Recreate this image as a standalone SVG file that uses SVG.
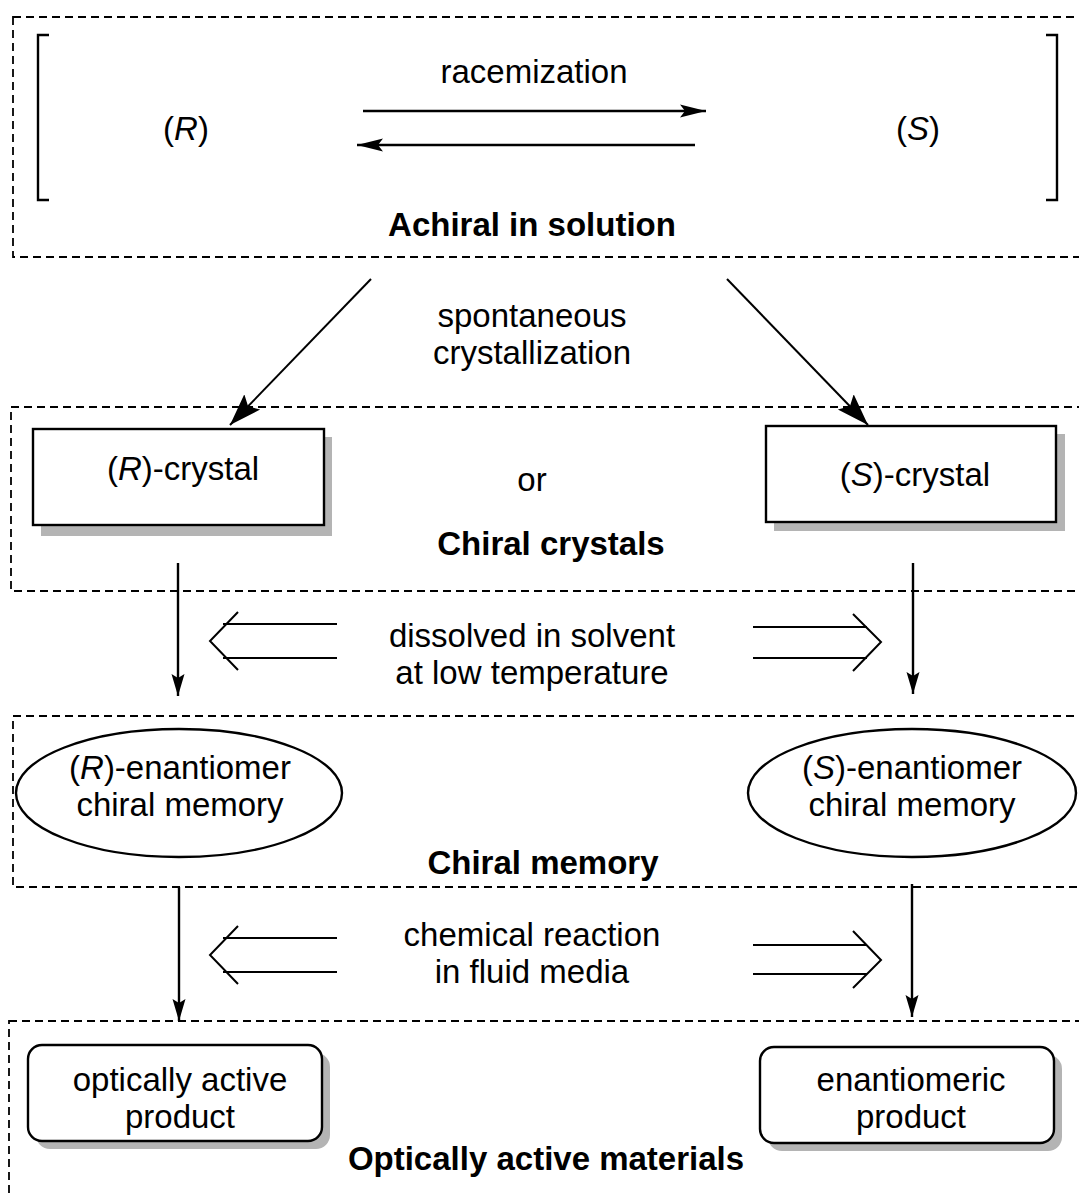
<svg xmlns="http://www.w3.org/2000/svg" width="1079" height="1196" viewBox="0 0 1079 1196">
<style>
text{font-family:"Liberation Sans",Arial,sans-serif;font-size:33px;fill:#000;text-anchor:middle}
.b{font-weight:bold}
.dash{fill:none;stroke:#000;stroke-width:1.8;stroke-dasharray:8 5}
.box{fill:#fff;stroke:#000;stroke-width:2.4}
.sh{fill:#b4b4b4}
.ln{fill:none;stroke:#000;stroke-width:2.4}
.thin{fill:none;stroke:#000;stroke-width:2}
</style>
<defs>
<marker id="ah" markerUnits="userSpaceOnUse" markerWidth="28" markerHeight="16" refX="26" refY="8" orient="auto">
<path d="M0,1.5 L26,8 L0,14.5 L5,8 z" fill="#000"/>
</marker>
<marker id="av" markerUnits="userSpaceOnUse" markerWidth="24" markerHeight="16" refX="22" refY="8" orient="auto">
<path d="M0,1.5 L22,8 L0,14.5 L4,8 z" fill="#000"/>
</marker>
<marker id="ad" markerUnits="userSpaceOnUse" markerWidth="34" markerHeight="24" refX="32" refY="12" orient="auto">
<path d="M0,1 L32,12 L0,23 L6,12 z" fill="#000"/>
</marker>
</defs>
<rect width="1079" height="1196" fill="#fff"/>

<g id="group-achiral">
<rect class="dash" x="13" y="17" width="1090" height="240"/>
<path class="ln" d="M49,35 H38 V200 H49"/>
<path class="ln" d="M1046,35 H1057 V200 H1046"/>
<text class="b" x="532" y="236">Achiral in solution</text>
</g>
<g id="node-R"><text x="186" y="140">(<tspan font-style="italic">R</tspan>)</text></g>
<g id="node-S"><text x="918" y="140">(<tspan font-style="italic">S</tspan>)</text></g>
<text x="534" y="83">racemization</text>

<g id="group-crystals">
<rect class="dash" x="11" y="407" width="1090" height="184"/>
<text x="532" y="491">or</text>
<text class="b" x="551" y="555">Chiral crystals</text>
</g>
<g id="node-R-crystal">
<rect class="sh" x="41" y="437" width="291" height="99"/>
<rect class="box" x="33" y="429" width="291" height="96"/>
<text x="183" y="480">(<tspan font-style="italic">R</tspan>)-crystal</text>
</g>
<g id="node-S-crystal">
<rect class="sh" x="774" y="434" width="291" height="97"/>
<rect class="box" x="766" y="426" width="290" height="96"/>
<text x="915" y="486">(<tspan font-style="italic">S</tspan>)-crystal</text>
</g>

<g id="group-memory">
<rect class="dash" x="13" y="716" width="1090" height="171"/>
<text class="b" x="543" y="874">Chiral memory</text>
</g>
<g id="node-R-memory">
<ellipse class="box" cx="179" cy="793" rx="163" ry="64"/>
<text x="180" y="779">(<tspan font-style="italic">R</tspan>)-enantiomer</text>
<text x="180" y="816">chiral memory</text>
</g>
<g id="node-S-memory">
<ellipse class="box" cx="912" cy="793" rx="164" ry="64"/>
<text x="912" y="779">(<tspan font-style="italic">S</tspan>)-enantiomer</text>
<text x="912" y="816">chiral memory</text>
</g>

<g id="group-materials">
<rect class="dash" x="9" y="1021" width="1095" height="200"/>
<text class="b" x="546" y="1170">Optically active materials</text>
</g>
<g id="node-opt-product">
<rect class="sh" x="36" y="1053" width="294" height="96" rx="14"/>
<rect class="box" x="28" y="1045" width="294" height="96" rx="14"/>
<text x="180" y="1091">optically active</text>
<text x="180" y="1128">product</text>
</g>
<g id="node-enant-product">
<rect class="sh" x="768" y="1055" width="294" height="96" rx="14"/>
<rect class="box" x="760" y="1047" width="294" height="96" rx="14"/>
<text x="911" y="1091">enantiomeric</text>
<text x="911" y="1128">product</text>
</g>

<g id="connectors">
<line class="ln" x1="363" y1="111" x2="706" y2="111" marker-end="url(#ah)"/>
<line class="ln" x1="695" y1="145" x2="357" y2="145" marker-end="url(#ah)"/>
<line class="thin" x1="371" y1="279" x2="230" y2="425" marker-end="url(#ad)"/>
<line class="thin" x1="727" y1="279" x2="868" y2="425" marker-end="url(#ad)"/>
<line class="ln" x1="178" y1="563" x2="178" y2="696" marker-end="url(#av)"/>
<line class="ln" x1="913" y1="563" x2="913" y2="694" marker-end="url(#av)"/>
<line class="ln" x1="179" y1="887" x2="179" y2="1021" marker-end="url(#av)"/>
<line class="ln" x1="912" y1="884" x2="912" y2="1017" marker-end="url(#av)"/>
<path class="thin" d="M337,624 H223 M337,658 H223 M238,612 L210,641 L238,670"/>
<path class="thin" d="M753,627 H867 M753,658 H867 M853,614 L881,642 L853,671"/>
<path class="thin" d="M337,938 H223 M337,972 H223 M238,926 L210,955 L238,984"/>
<path class="thin" d="M753,945 H867 M753,974 H867 M853,931 L881,960 L853,988"/>
</g>
<text x="532" y="327">spontaneous</text>
<text x="532" y="364">crystallization</text>
<text x="532" y="647">dissolved in solvent</text>
<text x="532" y="684">at low temperature</text>
<text x="532" y="946">chemical reaction</text>
<text x="532" y="983">in fluid media</text>
</svg>
